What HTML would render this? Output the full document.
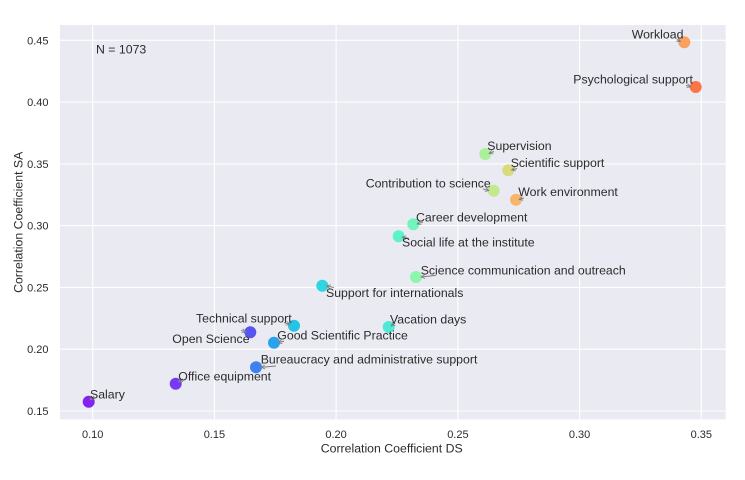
<!DOCTYPE html>
<html>
<head>
<meta charset="utf-8">
<style>
html,body{margin:0;padding:0;background:#fff;}
svg{display:block;}
text{font-family:"Liberation Sans",Arial,sans-serif;fill:#2b2b2b;}
</style>
</head>
<body>
<svg width="745" height="480" viewBox="0 0 745 480" xmlns="http://www.w3.org/2000/svg">
<defs>
<marker id="ah" viewBox="0 0 10 10" refX="9" refY="5" markerWidth="5" markerHeight="5" orient="auto" markerUnits="userSpaceOnUse">
<path d="M1,1 L9,5 L1,9" fill="none" stroke="#808080" stroke-width="1.6"/>
</marker>
</defs>
<rect x="0" y="0" width="745" height="480" fill="#ffffff"/>
<rect x="60" y="25" width="665.7" height="394.3" fill="#eaeaf2"/>
<g stroke="#ffffff" stroke-width="1.1">
<line x1="92.7" y1="25" x2="92.7" y2="419.3"/>
<line x1="214.4" y1="25" x2="214.4" y2="419.3"/>
<line x1="336.1" y1="25" x2="336.1" y2="419.3"/>
<line x1="457.9" y1="25" x2="457.9" y2="419.3"/>
<line x1="579.6" y1="25" x2="579.6" y2="419.3"/>
<line x1="701.3" y1="25" x2="701.3" y2="419.3"/>
<line x1="60" y1="40.3" x2="725.7" y2="40.3"/>
<line x1="60" y1="102.1" x2="725.7" y2="102.1"/>
<line x1="60" y1="163.9" x2="725.7" y2="163.9"/>
<line x1="60" y1="225.6" x2="725.7" y2="225.6"/>
<line x1="60" y1="287.4" x2="725.7" y2="287.4"/>
<line x1="60" y1="349.2" x2="725.7" y2="349.2"/>
<line x1="60" y1="411.0" x2="725.7" y2="411.0"/>
</g>
<!-- tick labels -->
<g font-size="11" text-anchor="middle">
<text x="92.7" y="438">0.10</text>
<text x="214.4" y="438">0.15</text>
<text x="336.1" y="438">0.20</text>
<text x="457.9" y="438">0.25</text>
<text x="579.6" y="438">0.30</text>
<text x="701.3" y="438">0.35</text>
</g>
<g font-size="11" text-anchor="end">
<text x="48.5" y="44.3">0.45</text>
<text x="48.5" y="106.1">0.40</text>
<text x="48.5" y="167.9">0.35</text>
<text x="48.5" y="229.6">0.30</text>
<text x="48.5" y="291.4">0.25</text>
<text x="48.5" y="353.2">0.20</text>
<text x="48.5" y="415.0">0.15</text>
</g>
<text x="391.7" y="452.5" font-size="12.3" text-anchor="middle">Correlation Coefficient DS</text>
<text x="0" y="0" font-size="12.3" text-anchor="middle" transform="translate(22.3,222.3) rotate(-90)">Correlation Coefficient SA</text>
<text x="96" y="53.3" font-size="12.3">N = 1073</text>

<!-- points -->
<g fill-opacity="0.92">
<circle cx="88.7" cy="401.7" r="6" fill="#7a0ef2"/>
<circle cx="175.7" cy="383.7" r="6" fill="#6a2af5"/>
<circle cx="256" cy="367.3" r="6" fill="#2f78f2"/>
<circle cx="250.3" cy="332.3" r="6" fill="#4a48f2"/>
<circle cx="274" cy="342.7" r="6" fill="#199bee"/>
<circle cx="294" cy="325.7" r="6" fill="#12c0e6"/>
<circle cx="322.3" cy="285.7" r="6" fill="#1ed2e0"/>
<circle cx="388.7" cy="327" r="6" fill="#42e8d2"/>
<circle cx="398.7" cy="236.3" r="6" fill="#50f2c6"/>
<circle cx="413.3" cy="224.3" r="6" fill="#66f5b8"/>
<circle cx="416" cy="277" r="6" fill="#82f7a6"/>
<circle cx="485.3" cy="154" r="6" fill="#a4ef92"/>
<circle cx="493.7" cy="190.7" r="6" fill="#bee884"/>
<circle cx="508.3" cy="170.3" r="6" fill="#d8d872"/>
<circle cx="516" cy="199.7" r="6" fill="#f9b05e"/>
<circle cx="684.3" cy="42.3" r="6" fill="#fc9a52"/>
<circle cx="695.7" cy="87" r="6" fill="#fc6a36"/>
</g>

<!-- arrows -->
<g stroke="#808080" stroke-width="1.1" fill="none" marker-end="url(#ah)">
<line x1="94" y1="396" x2="90" y2="400"/>
<line x1="183" y1="379" x2="178.5" y2="382"/>
<line x1="276" y1="366" x2="261" y2="367.3"/>
<line x1="284" y1="341.3" x2="278" y2="342.5"/>
<line x1="284" y1="322.5" x2="290" y2="324.5"/>
<line x1="241" y1="330.5" x2="246" y2="331.8"/>
<line x1="334" y1="287.5" x2="326.5" y2="286"/>
<line x1="395" y1="323" x2="391" y2="326"/>
<line x1="409" y1="238.5" x2="402" y2="237"/>
<line x1="423" y1="222" x2="417" y2="224"/>
<line x1="436" y1="275.3" x2="421" y2="277"/>
<line x1="494" y1="151.5" x2="489" y2="153.5"/>
<line x1="483" y1="189" x2="489" y2="190.5"/>
<line x1="517" y1="168.5" x2="511.5" y2="170"/>
<line x1="524" y1="198" x2="519" y2="199.5"/>
<line x1="677" y1="39.5" x2="680.5" y2="41.5"/>
<line x1="686" y1="85.5" x2="691" y2="86.7"/>
</g>

<!-- annotations -->
<g font-size="12.3">
<text x="90" y="398.5">Salary</text>
<text x="178.3" y="380.5">Office equipment</text>
<text x="260.7" y="363.5">Bureaucracy and administrative support</text>
<text x="172.3" y="343">Open Science</text>
<text x="277.3" y="339.3">Good Scientific Practice</text>
<text x="196" y="322.3">Technical support</text>
<text x="326" y="297">Support for internationals</text>
<text x="390" y="323.5">Vacation days</text>
<text x="402" y="246.5">Social life at the institute</text>
<text x="416" y="221.3">Career development</text>
<text x="420.7" y="274.5">Science communication and outreach</text>
<text x="487.3" y="150">Supervision</text>
<text x="365.7" y="187.5">Contribution to science</text>
<text x="510.7" y="167">Scientific support</text>
<text x="518.3" y="196">Work environment</text>
<text x="631.7" y="38.3">Workload</text>
<text x="573.3" y="83.5">Psychological support</text>
</g>
</svg>
</body>
</html>
